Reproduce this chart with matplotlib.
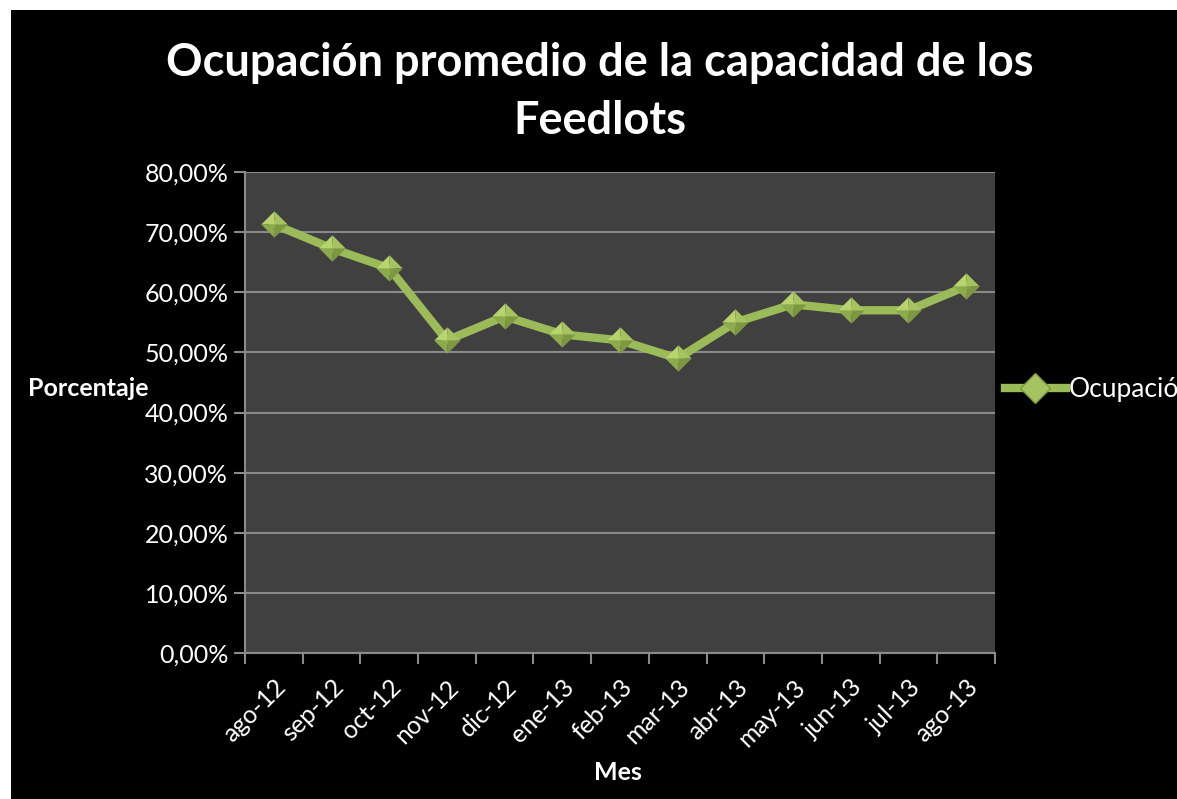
import matplotlib
matplotlib.use("Agg")
import matplotlib.pyplot as plt
from matplotlib.patches import Rectangle
from matplotlib.path import Path
from matplotlib.ticker import FuncFormatter, FixedLocator

plt.rcParams['font.family'] = ['Lato', 'DejaVu Sans']

meses = ["ago-12", "sep-12", "oct-12", "nov-12", "dic-12", "ene-13", "feb-13",
         "mar-13", "abr-13", "may-13", "jun-13", "jul-13", "ago-13"]
ocupacion = [71.3, 67.3, 64.0, 52.0, 56.0, 53.0, 52.0, 49.0, 55.0, 58.0, 57.0, 57.0, 61.0]
y_ticks = [0, 10, 20, 30, 40, 50, 60, 70, 80]

verde = "#9bbb59"

# bevelled diamond facets
facetas = [
    (Path([(0, 0), (-1, 0), (0, 1), (0, 0)]), "#b7d46f"),
    (Path([(0, 0), (0, 1), (1, 0), (0, 0)]), "#a5c360"),
    (Path([(0, 0), (1, 0), (0, -1), (0, 0)]), "#7d9841"),
    (Path([(0, 0), (0, -1), (-1, 0), (0, 0)]), "#8cab4c"),
]

fig = plt.figure(figsize=(11.77, 7.99), dpi=100)
fig.patch.set_facecolor("white")
fig.add_artist(Rectangle((11 / 1177, 0), 1, 1 - 10 / 799, transform=fig.transFigure,
                         facecolor="black", edgecolor="none", zorder=0))

ax = fig.add_axes([245 / 1177, 146 / 799, 750 / 1177, 481 / 799])
ax.set_facecolor("#404040")
x = list(range(len(meses)))

ax.plot(x, ocupacion, color=verde, lw=6, solid_joinstyle="round", zorder=3)
for p, c in facetas:
    ax.plot(x, ocupacion, ls="none", marker=p, ms=19, mfc=c, mec="none", zorder=4)

ax.set_xlim(-0.5, len(meses) - 0.5)
ax.set_ylim(0, 80)
ax.yaxis.set_major_locator(FixedLocator(y_ticks))
ax.yaxis.set_major_formatter(FuncFormatter(lambda v, _: f"{v:.2f}%".replace(".", ",")))
ax.grid(axis="y", color="#8a8a8a", lw=1.5)
ax.set_axisbelow(True)

ax.set_xticks(x)
ax.set_xticklabels(meses, rotation=45, ha="right", rotation_mode="anchor")
ax.set_xticks([i - 0.5 for i in range(len(meses) + 1)], minor=True)
ax.tick_params(axis="x", which="major", length=0, pad=16, labelcolor="white", labelsize=18)
ax.tick_params(axis="x", which="minor", length=8, width=1.5, color="#8a8a8a")
ax.tick_params(axis="y", length=8, width=1.5, color="#8a8a8a", labelcolor="white",
               labelsize=18, pad=4)

for s in ["top", "right"]:
    ax.spines[s].set_visible(False)
for s in ["left", "bottom"]:
    ax.spines[s].set_color("#8a8a8a")
    ax.spines[s].set_linewidth(1.5)

fig.text(600 / 1177, 1 - 92 / 799, "Ocupación promedio de la capacidad de los\nFeedlots",
         ha="center", va="center", color="white", fontsize=32.5, fontweight="bold",
         linespacing=1.5)
fig.text(28 / 1177, 1 - 388 / 799, "Porcentaje", ha="left", va="center",
         color="white", fontsize=18, fontweight="bold")
fig.text(618 / 1177, 1 - 773 / 799, "Mes", ha="center", va="center",
         color="white", fontsize=18, fontweight="bold")

# legend (cut at the right edge, as in the original)
leg = ax.legend(handles=[plt.Line2D([], [], color=verde, lw=6, marker="D", ms=15,
                                    mfc="#a5c360", mec="#7d9841")],
                labels=["Ocupación"], loc="center left", bbox_to_anchor=(1.0, 0.547),
                frameon=False, fontsize=19, labelcolor="white", handlelength=2.3,
                handletextpad=0.1, borderpad=0, borderaxespad=0.38)

fig.savefig("out.png", dpi=100, facecolor=fig.get_facecolor())
